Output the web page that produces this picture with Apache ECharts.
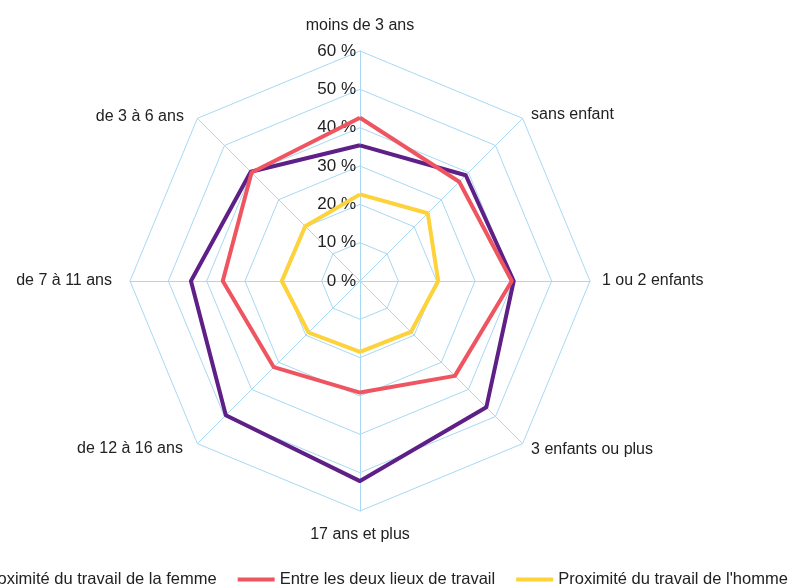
<!DOCTYPE html>
<html>
<head>
<meta charset="utf-8">
<script src="https://cdn.jsdelivr.net/npm/echarts@6/dist/echarts.min.js"></script>
<style>
html,body{margin:0;padding:0;background:#fff;}
#chart{width:797px;height:585px;}
</style>
</head>
<body>
<div id="chart"></div>
<script>
// Indicators listed counterclockwise from the top (ECharts radar order)
var categories = ['moins de 3 ans', 'de 3 à 6 ans', 'de 7 à 11 ans', 'de 12 à 16 ans', '17 ans et plus', '3 enfants ou plus', '1 ou 2 enfants', 'sans enfant'];
var seriesNames = ['Proximité du travail de la femme', 'Entre les deux lieux de travail', "Proximité du travail de l'homme"];
var femme = [35.4, 40.3, 44.1, 49.5, 52.2, 46.6, 40.1, 39.0];
var entre = [42.6, 40.0, 35.8, 31.8, 29.1, 35.0, 39.6, 36.6];
var homme = [22.6, 20.2, 20.4, 19.0, 18.5, 18.8, 20.4, 25.0];
var tickMax = 60;
var tickCount = 6;

var colors = ['#5e1f87', '#ef5560', '#fdd23a'];
var gridColor = '#a8d8f2';
var font = 'Liberation Sans, Arial, sans-serif';

// small per-label nudges of the axis names (padding only)
var namePad = [
  [0, 0, 5, 0],
  [14, 5, 0, 0],
  [0, 6, 0, 0],
  [0, 6, 8, 0],
  [4, 0, 0, 0],
  [0, 0, 6, 0],
  [0, 0, 0, 0],
  [10, 0, 0, 0]
];

var rich = {};
namePad.forEach(function (p, i) {
  rich['n' + i] = { padding: p, color: '#222', fontFamily: font, fontSize: 16 };
});

var indicator = categories.map(function (c, i) {
  var o = { name: c, min: 0, max: tickMax };
  if (i === 0) o.axisLabel = { show: true };
  return o;
});

var chart = echarts.init(document.getElementById('chart'));
chart.setOption({
  animation: false,
  color: colors,
  legend: {
    left: -66,
    top: 566,
    itemWidth: 37,
    itemHeight: 4,
    itemGap: 21,
    icon: 'rect',
    textStyle: { fontFamily: font, fontSize: 16.5, color: '#222' },
    data: seriesNames
  },
  radar: {
    center: [360, 281],
    radius: 230,
    startAngle: 90,
    splitNumber: tickCount,
    shape: 'polygon',
    indicator: indicator,
    axisName: {
      color: '#222', fontFamily: font, fontSize: 16,
      formatter: function (name) {
        return '{n' + categories.indexOf(name) + '|' + name + '}';
      },
      rich: rich
    },
    nameGap: 12,
    splitArea: { show: false },
    splitLine: { lineStyle: { color: gridColor, width: 1 } },
    axisLine: { lineStyle: { color: gridColor, width: 1 } },
    axisLabel: {
      show: false,
      color: '#222',
      fontFamily: font,
      fontSize: 17,
      margin: 4,
      formatter: '{value} %'
    }
  },
  series: [{
    type: 'radar',
    symbol: 'none',
    lineStyle: { width: 4 },
    data: [
      { name: seriesNames[0], value: femme, lineStyle: { color: colors[0], width: 4 }, itemStyle: { color: colors[0] } },
      { name: seriesNames[1], value: entre, lineStyle: { color: colors[1], width: 4 }, itemStyle: { color: colors[1] } },
      { name: seriesNames[2], value: homme, lineStyle: { color: colors[2], width: 4 }, itemStyle: { color: colors[2] } }
    ]
  }]
});
</script>
</body>
</html>
